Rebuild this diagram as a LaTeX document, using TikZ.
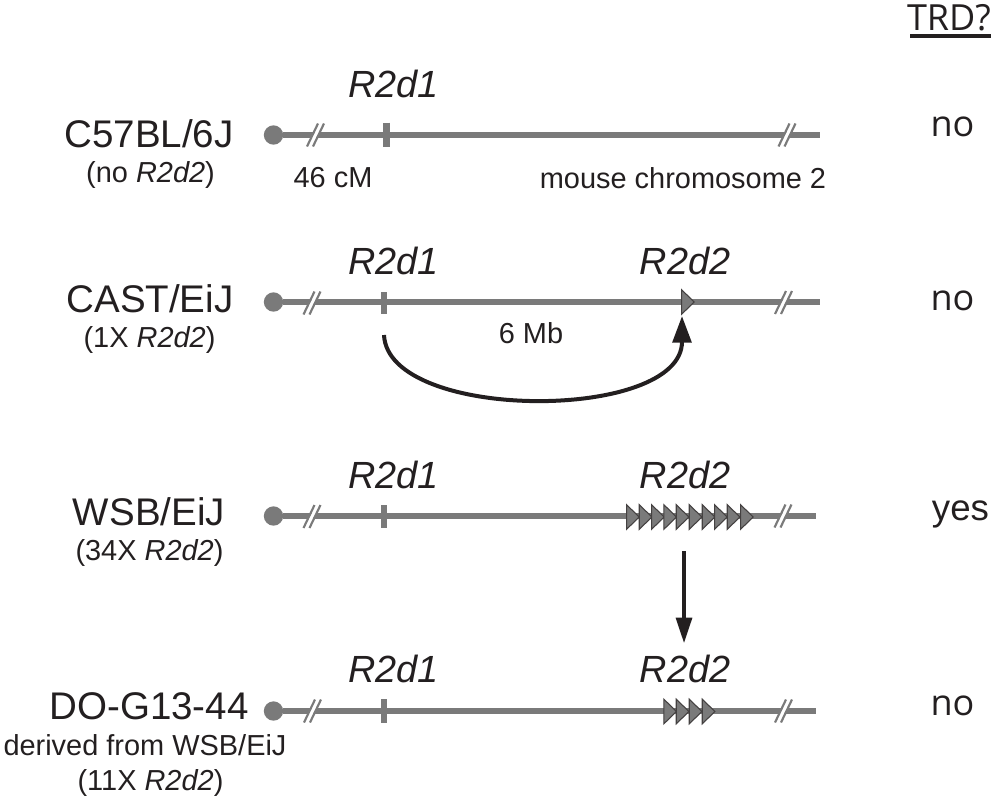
\documentclass[tikz,border=0pt]{standalone}
\usepackage{fontspec}
\setmainfont{Liberation Sans}
\newfontfamily\answerfont{Open Sans}
\usetikzlibrary{arrows.meta,shapes.geometric}

\definecolor{chromgray}{RGB}{122,122,122}
\definecolor{inkblack}{RGB}{35,31,32}

\tikzset{
  chrom/.style={line width=5.2pt,color=chromgray},
  tickmark/.style={line width=5pt,color=chromgray},
  centro/.style={circle,fill=chromgray,inner sep=0pt,minimum size=14.5pt},
  slash/.style={line width=1.6pt,color=chromgray},
  slashgap/.style={line width=2.8pt,color=white},
  repeatunit/.style={isosceles triangle,isosceles triangle stretches,draw=inkblack!85,fill=chromgray,line width=0.8pt,inner sep=0pt,minimum height=9.5pt,minimum width=18.5pt,anchor=west},
  strain/.style={font=\fontsize{28.9}{29}\selectfont,color=inkblack},
  note/.style={font=\fontsize{21.7}{22}\selectfont,color=inkblack},
  locus/.style={font=\fontsize{28.4}{29}\selectfont\itshape,color=inkblack},
  answer/.style={font=\answerfont\fontsize{27}{27}\selectfont,color=inkblack},
  answeryes/.style={font=\fontsize{27.5}{28}\selectfont,color=inkblack},
  linkarrow/.style={line width=3pt,color=inkblack,-{Triangle[length=20pt,width=14pt]}},
  droparrow/.style={line width=2.3pt,color=inkblack,-{Triangle[length=19pt,width=12pt]}}
}

\newcommand{\chrombreak}[1]{
  \draw[slashgap] (#1)++(-5.5,9) -- ++(11,-18);
  \draw[slash] (#1)++(-8.5,11.5) -- ++(11,-23);
  \draw[slash] (#1)++(-2.5,11.5) -- ++(11,-23);
}

\begin{document}
\begin{tikzpicture}[x=0.75pt,y=-0.75pt]
\useasboundingbox (0,0) rectangle (995,800);

%header
\node[answer] (trd) at (949,18) {TRD?};
\draw[line width=2.3pt,color=inkblack] (910,36) -- (991,36);

%C57BL/6J
\node[strain] (s1) at (149,134) {C57BL/6J};
\node[note] at (150.5,175) (s1b) {(no \textit{R2d2})};
\node[centro] (c1) at (273.5,135) {};
\coordinate (e1) at (820,135);
\draw[chrom] (c1) -- (e1);
\draw[tickmark] (386.5,122.5) -- (386.5,146.5);
\chrombreak{315.5,135}
\chrombreak{787,135}
\node[locus] (r1a) at (393.5,84) {R2d1};
\node[note] (cm) at (333,178) {46 cM};
\node[note] (mc) at (683,178) {mouse chromosome 2};
\node[answer] (a1) at (952.5,127) {no};

%CAST/EiJ
\node[strain] (s2) at (150,299) {CAST/EiJ};
\node[note] (s2b) at (149.5,340) {(1X \textit{R2d2})};
\node[centro] (c2) at (273.5,302) {};
\coordinate (e2) at (820,302);
\draw[chrom] (c2) -- (e2);
\draw[tickmark] (384,292) -- (384,314);
\chrombreak{312,303}
\chrombreak{783.5,302.5}
\node[repeatunit] (u2) at (681,302) {};
\node[locus] (r2a) at (393.5,261) {R2d1};
\node[locus] (r2b) at (685,261) {R2d2};
\node[note] (mb) at (531,333) {6 Mb};
\node[answer] (a2) at (952.5,301) {no};
\coordinate (arcstart) at (384,335);
\coordinate (arcend) at (682,316);
\draw[linkarrow] (arcstart) .. controls (388,422) and (682,422) .. (arcend);

%WSB/EiJ
\node[strain] (s3) at (149,512) {WSB/EiJ};
\node[note] (s3b) at (149.5,553) {(34X \textit{R2d2})};
\node[centro] (c3) at (273.5,516) {};
\coordinate (e3) at (816,516);
\draw[chrom] (c3) -- (e3);
\draw[tickmark] (384,505) -- (384,528);
\chrombreak{312,516.5}
\chrombreak{783,516}
\foreach \x in {626,638.7,651,663.3,675.7,688.7,701.7,714,726.7,740}
  \node[repeatunit] at (\x,517) {};
\node[locus] (r3a) at (393.5,474.5) {R2d1};
\node[locus] (r3b) at (685,474.5) {R2d2};
\node[answeryes] (a3) at (960.5,514) {yes};

%DO-G13-44
\node[strain] (s4) at (149,706.5) {DO-G13-44};
\node[note] (s4b) at (145,745) {derived from WSB/EiJ};
\node[note] (s4c) at (150.5,783) {(11X \textit{R2d2})};
\node[centro] (c4) at (273.5,711) {};
\coordinate (e4) at (816,711);
\draw[chrom] (c4) -- (e4);
\draw[tickmark] (384,699) -- (384,723);
\chrombreak{312.5,711}
\chrombreak{783.5,711}
\foreach \x in {663.3,675.7,688.7,701.7}
  \node[repeatunit] at (\x,711.5) {};
\node[locus] (r4a) at (393.5,669) {R2d1};
\node[locus] (r4b) at (685,669) {R2d2};
\node[answer] (a4) at (952.5,706) {no};

\coordinate (dropstart) at (684,551);
\coordinate (dropend) at (684,643);
\draw[droparrow] (dropstart) -- (dropend);
\end{tikzpicture}
\end{document}
